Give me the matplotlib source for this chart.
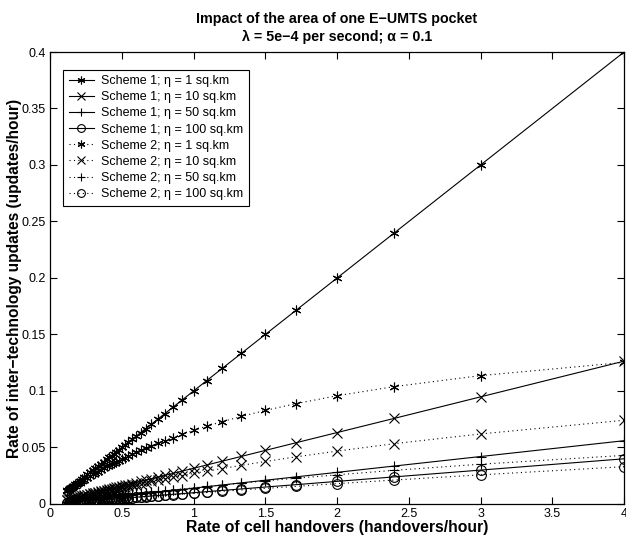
import matplotlib.pyplot as plt
import matplotlib as mpl

mpl.rcParams['font.family'] = ['Liberation Sans', 'DejaVu Sans']
mpl.rcParams['axes.unicode_minus'] = True

# handover rate (x) values, same for every curve
handover_rate = [4.0, 3.0, 2.4, 2.0, 1.7143, 1.5, 1.3333, 1.2, 1.0909, 1.0,
                 0.9231, 0.8571, 0.8, 0.75, 0.7059, 0.6667, 0.6316, 0.6, 0.5714, 0.5455,
                 0.5217, 0.5, 0.48, 0.4615, 0.4444, 0.4286, 0.4138, 0.4, 0.375, 0.3529,
                 0.3333, 0.3158, 0.3, 0.2791, 0.2609, 0.24, 0.2222, 0.2069, 0.1905, 0.1765,
                 0.1622, 0.15, 0.1379, 0.129, 0.12]

# Scheme 1 curves
s1_eta1 = [0.4, 0.3, 0.24, 0.2, 0.1714, 0.15, 0.1333, 0.12, 0.1091, 0.1,
           0.0923, 0.0857, 0.08, 0.075, 0.0706, 0.0667, 0.0632, 0.06, 0.0571, 0.0545,
           0.0522, 0.05, 0.048, 0.0462, 0.0444, 0.0429, 0.0414, 0.04, 0.0375, 0.0353,
           0.0333, 0.0316, 0.03, 0.0279, 0.0261, 0.024, 0.0222, 0.0207, 0.019, 0.0176,
           0.0162, 0.015, 0.0138, 0.0129, 0.012]
s1_eta10 = [0.1264, 0.0948, 0.0758, 0.0632, 0.0542, 0.0474, 0.0421, 0.0379, 0.0345, 0.0316,
            0.0292, 0.0271, 0.0253, 0.0237, 0.0223, 0.0211, 0.02, 0.019, 0.0181, 0.0172,
            0.0165, 0.0158, 0.0152, 0.0146, 0.014, 0.0135, 0.0131, 0.0126, 0.0119, 0.0112,
            0.0105, 0.01, 0.0095, 0.0088, 0.0082, 0.0076, 0.007, 0.0065, 0.006, 0.0056,
            0.0051, 0.0047, 0.0044, 0.0041, 0.0038]
s1_eta50 = [0.056, 0.042, 0.0336, 0.028, 0.024, 0.021, 0.0187, 0.0168, 0.0153, 0.014,
            0.0129, 0.012, 0.0112, 0.0105, 0.0099, 0.0093, 0.0088, 0.0084, 0.008, 0.0076,
            0.0073, 0.007, 0.0067, 0.0065, 0.0062, 0.006, 0.0058, 0.0056, 0.0053, 0.0049,
            0.0047, 0.0044, 0.0042, 0.0039, 0.0037, 0.0034, 0.0031, 0.0029, 0.0027, 0.0025,
            0.0023, 0.0021, 0.0019, 0.0018, 0.0017]
s1_eta100 = [0.04, 0.03, 0.024, 0.02, 0.0171, 0.015, 0.0133, 0.012, 0.0109, 0.01,
             0.0092, 0.0086, 0.008, 0.0075, 0.0071, 0.0067, 0.0063, 0.006, 0.0057, 0.0055,
             0.0052, 0.005, 0.0048, 0.0046, 0.0044, 0.0043, 0.0041, 0.004, 0.0038, 0.0035,
             0.0033, 0.0032, 0.003, 0.0028, 0.0026, 0.0024, 0.0022, 0.0021, 0.0019, 0.0018,
             0.0016, 0.0015, 0.0014, 0.0013, 0.0012]

# Scheme 2 curves
s2_eta1 = [0.1253, 0.1136, 0.1039, 0.0958, 0.0888, 0.0828, 0.0775, 0.0729, 0.0688, 0.0651,
           0.0618, 0.0588, 0.0561, 0.0537, 0.0514, 0.0493, 0.0474, 0.0456, 0.044, 0.0424,
           0.041, 0.0397, 0.0384, 0.0373, 0.0362, 0.0351, 0.0341, 0.0332, 0.0315, 0.03,
           0.0285, 0.0273, 0.0261, 0.0245, 0.0231, 0.0215, 0.0201, 0.0188, 0.0175, 0.0163,
           0.0151, 0.0141, 0.013, 0.0122, 0.0114]
s2_eta10 = [0.0741, 0.062, 0.0534, 0.0468, 0.0417, 0.0376, 0.0342, 0.0314, 0.029, 0.027,
            0.0252, 0.0236, 0.0223, 0.021, 0.0199, 0.019, 0.0181, 0.0172, 0.0165, 0.0158,
            0.0152, 0.0146, 0.0141, 0.0136, 0.0131, 0.0127, 0.0123, 0.0119, 0.0112, 0.0106,
            0.01, 0.0095, 0.0091, 0.0085, 0.0079, 0.0073, 0.0068, 0.0063, 0.0059, 0.0054,
            0.005, 0.0047, 0.0043, 0.004, 0.0037]
s2_eta50 = [0.043, 0.0352, 0.0298, 0.0258, 0.0228, 0.0204, 0.0184, 0.0168, 0.0155, 0.0143,
            0.0133, 0.0125, 0.0117, 0.0111, 0.0105, 0.0099, 0.0094, 0.009, 0.0086, 0.0082,
            0.0079, 0.0076, 0.0073, 0.007, 0.0068, 0.0066, 0.0063, 0.0061, 0.0058, 0.0055,
            0.0052, 0.0049, 0.0047, 0.0043, 0.0041, 0.0038, 0.0035, 0.0033, 0.003, 0.0028,
            0.0026, 0.0024, 0.0022, 0.002, 0.0019]
s2_eta100 = [0.033, 0.0258, 0.0212, 0.018, 0.0156, 0.0138, 0.0124, 0.0112, 0.0102, 0.0094,
             0.0087, 0.0081, 0.0076, 0.0072, 0.0068, 0.0064, 0.0061, 0.0058, 0.0055, 0.0053,
             0.005, 0.0048, 0.0046, 0.0045, 0.0043, 0.0042, 0.004, 0.0039, 0.0036, 0.0034,
             0.0032, 0.0031, 0.0029, 0.0027, 0.0026, 0.0023, 0.0022, 0.002, 0.0019, 0.0017,
             0.0016, 0.0015, 0.0014, 0.0013, 0.0012]

labels = ['Scheme 1; \u03b7 = 1 sq.km', 'Scheme 1; \u03b7 = 10 sq.km',
          'Scheme 1; \u03b7 = 50 sq.km', 'Scheme 1; \u03b7 = 100 sq.km',
          'Scheme 2; \u03b7 = 1 sq.km', 'Scheme 2; \u03b7 = 10 sq.km',
          'Scheme 2; \u03b7 = 50 sq.km', 'Scheme 2; \u03b7 = 100 sq.km']
series = [s1_eta1, s1_eta10, s1_eta50, s1_eta100,
          s2_eta1, s2_eta10, s2_eta50, s2_eta100]

asterisk = (6, 2, 0)
markers = [asterisk, 'x', '+', 'o'] * 2
styles = ['-'] * 4 + [(0, (1, 3))] * 4

fig = plt.figure(figsize=(6.26, 5.4), dpi=100)
ax = fig.add_axes([0.0799, 0.0667, 0.917, 0.837])

for ys, lab, mk, ls in zip(series, labels, markers, styles):
    ax.plot(handover_rate, ys, linestyle=ls, color='black', linewidth=0.8,
            marker=mk, markersize=7, markeredgewidth=0.8,
            markerfacecolor='none', markeredgecolor='black', label=lab)

ax.set_xlim(0, 4)
ax.set_ylim(0, 0.4)
ax.set_xticks([0, 0.5, 1, 1.5, 2, 2.5, 3, 3.5, 4])
ax.set_xticklabels(['0', '0.5', '1', '1.5', '2', '2.5', '3', '3.5', '4'])
ax.set_yticks([0, 0.05, 0.1, 0.15, 0.2, 0.25, 0.3, 0.35, 0.4])
ax.set_yticklabels(['0', '0.05', '0.1', '0.15', '0.2', '0.25', '0.3', '0.35', '0.4'])
ax.tick_params(direction='in', top=True, right=True, length=5, width=0.8, labelsize=9, pad=3)
for sp in ax.spines.values():
    sp.set_linewidth(0.9)

ax.set_title('Impact of the area of one E\u2212UMTS pocket\n\u03bb = 5e\u22124 per second; \u03b1 = 0.1',
             fontsize=10.3, fontweight='bold', linespacing=1.3, pad=8)
ax.set_xlabel('Rate of cell handovers (handovers/hour)', fontsize=11.3, fontweight='bold', labelpad=0)
ax.set_ylabel('Rate of inter\u2212technology updates (updates/hour)', fontsize=11.2, fontweight='bold', labelpad=0)

leg = ax.legend(loc='upper left', fontsize=9, handlelength=2.0, handletextpad=0.6,
                borderpad=0.45, labelspacing=0.33, fancybox=False, framealpha=1,
                markerscale=0.8, bbox_to_anchor=(0.012, 0.975))
leg.get_frame().set_edgecolor('black')
leg.get_frame().set_linewidth(0.8)

fig.savefig('out.png', dpi=100)
